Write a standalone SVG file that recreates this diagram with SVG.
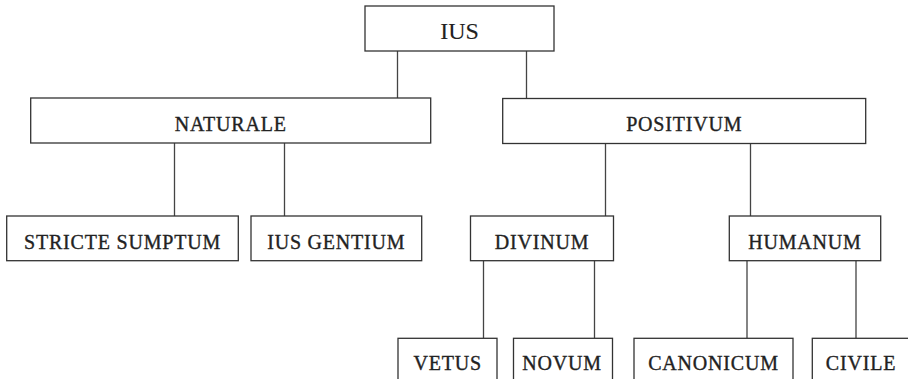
<svg xmlns="http://www.w3.org/2000/svg" width="908" height="379" viewBox="0 0 908 379">
<style>
.box{fill:#fff;stroke:#333;stroke-width:1.3}
.lbl{font-family:"Liberation Serif","Times New Roman",serif;font-size:20px;letter-spacing:0.8px;fill:#222;stroke:#222;stroke-width:0.35;text-anchor:middle}
.big{font-size:24px;letter-spacing:0;stroke-width:0.1}
.con{stroke:#444;stroke-width:1.3;fill:none}
</style>
<rect width="908" height="379" fill="#fff"/>
<g id="connectors">
<path class="con" d="M397.5 51V98M526.5 51V98"/>
<path class="con" d="M174.5 143V216M284.5 143V216"/>
<path class="con" d="M605.5 143V216M750.5 143V216"/>
<path class="con" d="M483.5 261V338M594.5 261V338"/>
<path class="con" d="M747 261V338M856 261V338"/>
</g>
<g id="ius"><rect class="box" x="365" y="6" width="189" height="45"/><text class="lbl big" x="459.5" y="38.5">IUS</text></g>
<g id="naturale"><rect class="box" x="30.7" y="98" width="400" height="45"/><text class="lbl" x="230.7" y="130.5">NATURALE</text></g>
<g id="positivum"><rect class="box" x="502.7" y="98.5" width="363" height="45"/><text class="lbl" x="684.2" y="130.5">POSITIVUM</text></g>
<g id="stricte"><rect class="box" x="6.7" y="216" width="231.6" height="44.7"/><text class="lbl" x="122.5" y="248.5">STRICTE SUMPTUM</text></g>
<g id="gentium"><rect class="box" x="251" y="216" width="170.7" height="44.7"/><text class="lbl" x="336.3" y="248.5">IUS GENTIUM</text></g>
<g id="divinum"><rect class="box" x="470.5" y="216" width="143" height="44.7"/><text class="lbl" x="542" y="248.5">DIVINUM</text></g>
<g id="humanum"><rect class="box" x="729.3" y="216" width="151.4" height="44.7"/><text class="lbl" x="805" y="248.5">HUMANUM</text></g>
<g id="vetus"><rect class="box" x="398" y="338.3" width="99" height="60"/><text class="lbl" x="447.8" y="369.5">VETUS</text></g>
<g id="novum"><rect class="box" x="513.5" y="338.3" width="99" height="60"/><text class="lbl" x="562" y="369.5">NOVUM</text></g>
<g id="canonicum"><rect class="box" x="634" y="338.3" width="159" height="60"/><text class="lbl" x="713.5" y="369.5">CANONICUM</text></g>
<g id="civile"><rect class="box" x="812.3" y="338.3" width="100" height="60"/><text class="lbl" x="861" y="369.5">CIVILE</text></g>
</svg>
